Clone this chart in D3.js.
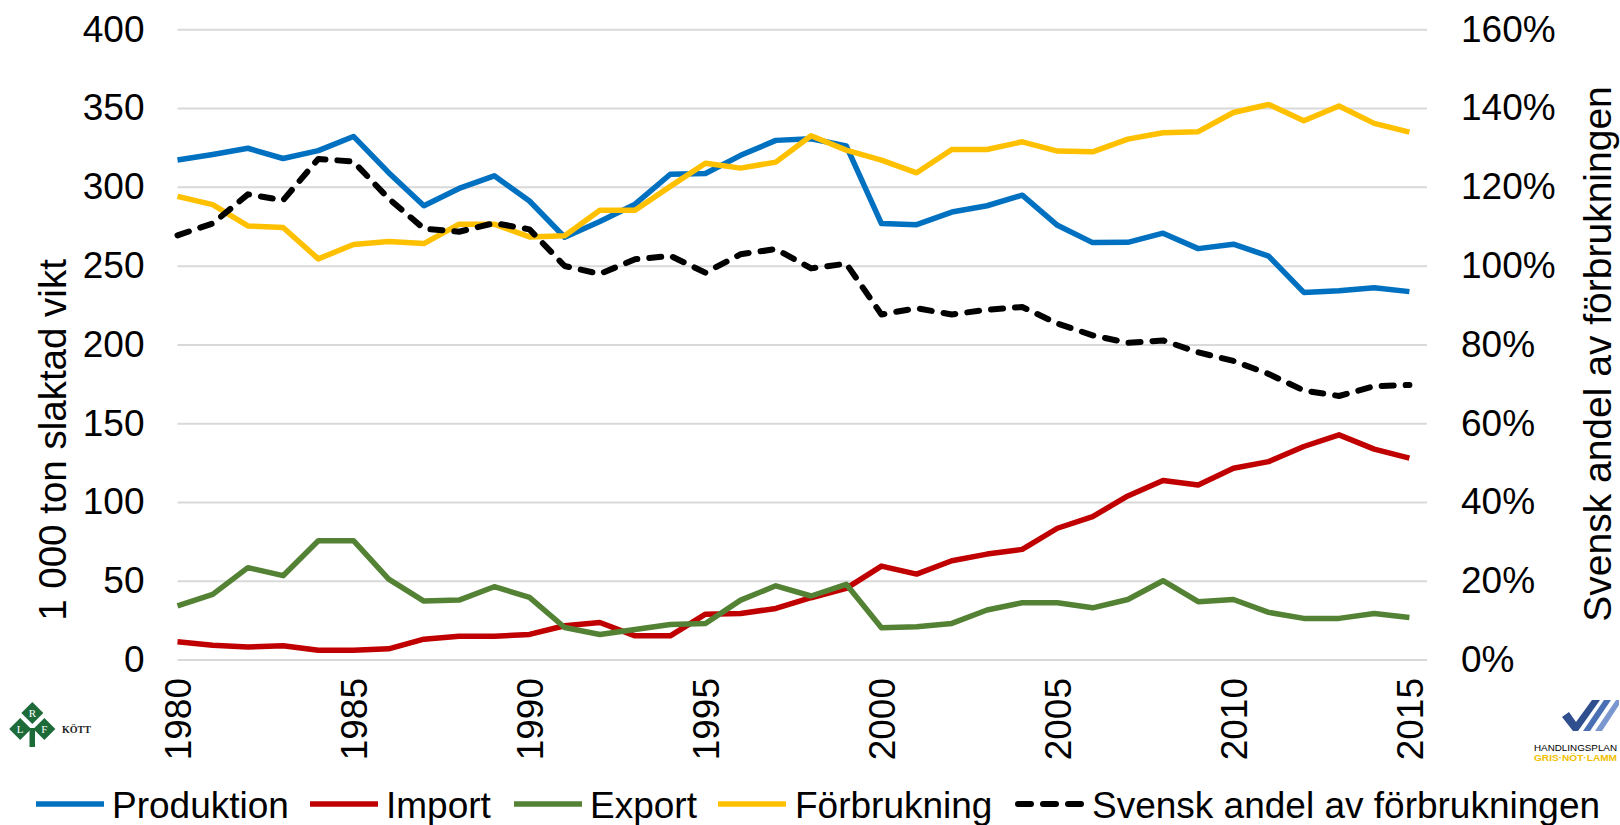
<!DOCTYPE html>
<html>
<head>
<meta charset="utf-8">
<script src="https://cdn.jsdelivr.net/npm/d3@7"></script>
<style>
  body { margin: 0; background: #fff; }
  svg { display: block; font-family: "Liberation Sans", Arial, sans-serif; }
  .grid line { stroke: #d9d9d9; stroke-width: 2; }
  .grid .domain { display: none; }
  .axis text { fill: #000; }
</style>
</head>
<body>
<div id="chart"></div>
<script>
// Gris: produktion, import, export och förbrukning (1 000 ton slaktad vikt)
const years = d3.range(1980, 2016);
const produktion = [317, 320.5, 324.5, 318, 323, 332, 309, 288, 299, 307, 291, 268, 278, 289, 308, 308.5, 320, 329.5, 330.5, 326,
  276.7, 276, 284, 288, 294.7, 275.6, 264.6, 264.8, 270.6, 260.8, 263.6, 256, 233, 234, 236, 233.5];
const importVol = [11.2, 9.1, 8, 8.7, 5.9, 5.9, 6.8, 12.9, 14.8, 14.8, 15.9, 21.4, 23.5, 15, 15, 28.8, 29.2, 32.4, 39.2, 45.1,
  59.3, 54.2, 62.7, 66.9, 69.9, 83.3, 90.7, 103.8, 113.6, 110.8, 121.4, 125.6, 135.2, 142.6, 133.5, 127.8];
const exportVol = [34.1, 41.3, 58.3, 53.2, 75.4, 75.4, 51, 37.1, 37.7, 46.2, 39.4, 20.3, 15.9, 19.1, 22.2, 22.9, 37.7, 46.8, 40.3, 47.7,
  20.1, 20.8, 22.9, 31.4, 36, 36, 32.8, 38.1, 50, 36.7, 38.1, 29.9, 26.1, 26.1, 29.2, 26.7];
const forbrukning = [294, 288.7, 275.2, 274.2, 254.3, 263.4, 265.3, 264, 276.3, 276.3, 268.2, 268.9, 285.1, 285.1, 300.3, 315, 311.9, 315.7, 332.4, 323.3,
  317, 308.9, 323.7, 323.7, 328.6, 322.7, 322.2, 330.3, 334.3, 335, 347.2, 352.3, 342, 351.3, 340.3, 334.7];
// Svensk andel av förbrukningen, procent
const andel = [107.7, 110.7, 118.1, 116.6, 127.1, 126.4, 117, 109.4, 108.6, 110.8, 109.2, 99.9, 97.9, 101.6, 102.5, 98.2, 102.9, 104.2, 99.3, 100.5,
  87.6, 89.2, 87.6, 88.8, 89.5, 85.3, 82.3, 80.4, 81, 78, 75.8, 72.5, 68.3, 66.9, 69.4, 69.7];

const leftTicks = [0, 50, 100, 150, 200, 250, 300, 350, 400];
const rightTicks = [0, 20, 40, 60, 80, 100, 120, 140, 160];
const yearTicks = [1980, 1985, 1990, 1995, 2000, 2005, 2010, 2015];

const series = [
  { name: "Produktion", values: produktion, color: "#0070c0", axis: "left" },
  { name: "Import", values: importVol, color: "#c00000", axis: "left" },
  { name: "Export", values: exportVol, color: "#548235", axis: "left" },
  { name: "Förbrukning", values: forbrukning, color: "#ffc000", axis: "left" },
  { name: "Svensk andel av förbrukningen", values: andel, color: "#000", axis: "right", dash: true }
];

const W = 1620, H = 825;
const svg = d3.select("#chart").append("svg").attr("width", W).attr("height", H);

// scales
const x = d3.scaleLinear().domain([1980, 2015.5]).range([177.5, 1427]);
const y = d3.scaleLinear().domain([0, 400]).range([659.5, 29.3]);
const y2 = d3.scaleLinear().domain([0, 160]).range([659.5, 29.3]);

// gridlines + left axis labels
const gLeft = svg.append("g")
  .attr("class", "grid axis")
  .attr("transform", `translate(${x.range()[0]},0)`)
  .call(d3.axisLeft(y).tickValues(leftTicks).tickSize(-(x.range()[1] - x.range()[0])).tickPadding(33));
gLeft.selectAll("text").attr("font-size", 37);

// right axis labels
const gRight = svg.append("g")
  .attr("class", "axis")
  .attr("transform", `translate(1461,0)`)
  .call(d3.axisRight(y2).tickValues(rightTicks).tickSize(0).tickPadding(0).tickFormat(d => d + "%"));
gRight.select(".domain").remove();
gRight.selectAll("text").attr("font-size", 37);

// x axis (rotated year labels)
const gX = svg.append("g")
  .attr("class", "axis")
  .attr("transform", `translate(0,678)`)
  .call(d3.axisBottom(x).tickValues(yearTicks).tickSize(0).tickFormat(d3.format("d")));
gX.select(".domain").remove();
gX.selectAll("text")
  .attr("font-size", 37)
  .attr("transform", "rotate(-90)")
  .attr("text-anchor", "end")
  .attr("x", 0)
  .attr("y", 0)
  .attr("dy", "0.35em");

// axis titles
svg.append("text")
  .attr("transform", "translate(53,440) rotate(-90)")
  .attr("text-anchor", "middle")
  .attr("dy", "0.35em")
  .attr("font-size", 38.5)
  .text("1 000 ton slaktad vikt");

svg.append("text")
  .attr("transform", "translate(1597,354) rotate(-90)")
  .attr("text-anchor", "middle")
  .attr("dy", "0.35em")
  .attr("font-size", 39)
  .text("Svensk andel av förbrukningen");

// lines
series.forEach(s => {
  const ys = s.axis === "right" ? y2 : y;
  const line = d3.line().x((d, i) => x(years[i])).y(d => ys(d));
  svg.append("path")
    .datum(s.values)
    .attr("fill", "none")
    .attr("stroke", s.color)
    .attr("stroke-width", s.dash ? 6 : 5.5)
    .attr("stroke-linejoin", "round")
    .attr("stroke-linecap", s.dash ? "round" : "butt")
    .attr("stroke-dasharray", s.dash ? "12,12" : null)
    .attr("d", line);
});

// legend
const legendItems = [
  { x0: 36, tx: 112 }, { x0: 310, tx: 386 }, { x0: 514, tx: 590 },
  { x0: 718, tx: 795 }, { x0: 1015, tx: 1092 }
];
const lg = svg.append("g");
series.forEach((s, i) => {
  const it = legendItems[i];
  lg.append("line")
    .attr("x1", it.x0 + (s.dash ? 3 : 0)).attr("x2", it.x0 + 68)
    .attr("y1", 804).attr("y2", 804)
    .attr("stroke", s.color)
    .attr("stroke-width", s.dash ? 6 : 5.5)
    .attr("stroke-linecap", s.dash ? "round" : "butt")
    .attr("stroke-dasharray", s.dash ? "13,12" : null);
  lg.append("text")
    .attr("x", it.tx).attr("y", 818)
    .attr("font-size", 37)
    .text(s.name);
});

// LRF Kött logo (bottom left)
const lrf = svg.append("g");
const diamonds = [
  { cx: 32.3, cy: 713, t: "R" },
  { cx: 20.2, cy: 729, t: "L" },
  { cx: 44.4, cy: 729, t: "F" }
];
lrf.append("rect").attr("x", 29.5).attr("y", 728).attr("width", 5.5).attr("height", 19).attr("fill", "#1e6b3a");
diamonds.forEach(d => {
  lrf.append("path")
    .attr("d", `M${d.cx},${d.cy - 11} L${d.cx + 11},${d.cy} L${d.cx},${d.cy + 11} L${d.cx - 11},${d.cy} Z`)
    .attr("fill", "#1e6b3a");
  lrf.append("text")
    .attr("x", d.cx).attr("y", d.cy + 4)
    .attr("text-anchor", "middle")
    .attr("font-family", "Liberation Serif, serif")
    .attr("font-size", 11)
    .attr("fill", "#fff")
    .text(d.t);
});
lrf.append("text")
  .attr("x", 62).attr("y", 733)
  .attr("font-family", "Liberation Serif, serif")
  .attr("font-weight", "bold")
  .attr("font-size", 10)
  .attr("fill", "#222")
  .text("KÖTT");

// Handlingsplan logo (bottom right)
const hp = svg.append("g");
hp.append("path").attr("d", "M1562,717 L1569,712 L1576,722 L1592,700 L1600,700 L1578,731 L1573,731 Z").attr("fill", "#2f4f8f");
hp.append("path").attr("d", "M1583,731 L1604,700 L1611,700 L1590,731 Z").attr("fill", "#4a6fb5");
hp.append("path").attr("d", "M1595,731 L1616,700 L1619,700 L1619,705 L1602,731 Z").attr("fill", "#7b97d0");
hp.append("text")
  .attr("x", 1534).attr("y", 751)
  .attr("font-size", 9)
  .attr("textLength", 83)
  .attr("lengthAdjust", "spacingAndGlyphs")
  .attr("fill", "#000")
  .text("HANDLINGSPLAN");
hp.append("text")
  .attr("x", 1534).attr("y", 761)
  .attr("font-size", 8.5)
  .attr("font-weight", "bold")
  .attr("textLength", 83)
  .attr("lengthAdjust", "spacingAndGlyphs")
  .attr("fill", "#f0c000")
  .text("GRIS·NÖT·LAMM");
</script>
</body>
</html>
